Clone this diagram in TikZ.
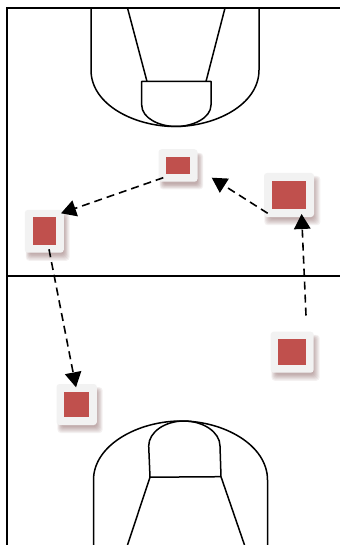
\documentclass[tikz,border=0pt]{standalone}
\usetikzlibrary{arrows.meta,shadows}
\definecolor{tokenred}{HTML}{C0504D}
\definecolor{tokenbg}{HTML}{F2F2F2}
\definecolor{shadowred}{HTML}{6E3A3C}
\tikzset{
  x=1pt,y=-1pt,
  court/.style={line width=1.5pt,draw=black,line join=round},
  frame/.style={line width=2pt,draw=black},
  softlayer/.style={general shadow={fill=shadowred,opacity=.07,shadow xshift=3pt,shadow yshift=-5pt,shadow scale=#1,rounded corners=4pt}},
  tokenbox/.style={softlayer=1.12,softlayer=1.08,softlayer=1.04,softlayer=1.0,softlayer=.96,softlayer=.92,softlayer=.88,fill=tokenbg,rounded corners=3pt,inner sep=0pt},
  tokencore/.style={fill=tokenred,inner sep=0pt},
  pass/.style={line width=1.6pt,draw=black,dash pattern=on 8pt off 5pt,-{Triangle[length=15pt,width=16.5pt]}}
}
\begin{document}
\begin{tikzpicture}
\useasboundingbox[fill=white] (0,0) rectangle (340,545);
% court
\draw[frame] (7,545) -- (7,8) -- (340,8);
\draw[frame] (7,276) -- (340,276);
% top key
\draw[court] (91,8) -- (91,70) .. controls (91,105) and (135,126.5) .. (175,126.5) .. controls (215,126.5) and (259,105) .. (259,70) -- (259,8);
\draw[court] (141.7,81.5) -- (211,81.5) -- (211,105) .. controls (211,118) and (193,126.5) .. (176,126.5) .. controls (159,126.5) and (141.7,118) .. (141.7,105) -- cycle;
\draw[court] (127.5,8) -- (147,81.5);
\draw[court] (225,8) -- (206,81.5);
% bottom key
\draw[court] (93.5,545) -- (93.5,480) .. controls (93.5,445) and (138,421) .. (181,421) .. controls (224,421) and (267.5,445) .. (267.5,480) -- (267.5,545);
\draw[court] (150,477.2) -- (148.7,446) .. controls (148.7,432) and (165,421) .. (184,421) .. controls (203,421) and (220,432) .. (220,446) -- (221,476.7) -- cycle;
\draw[court] (150,477.2) -- (127.5,545);
\draw[court] (221,476.7) -- (244.5,545);
% players
\node[tokenbox,minimum width=39pt,minimum height=32.5pt] (boxA) at (178,165.5) {};
\node[tokencore,minimum width=23.3pt,minimum height=16.7pt] (coreA) at (boxA.center) {};
\node[tokenbox,minimum width=50pt,minimum height=44pt] (boxB) at (289,195) {};
\node[tokencore,minimum width=34.7pt,minimum height=27.7pt] (coreB) at (boxB.center) {};
\node[tokenbox,minimum width=39pt,minimum height=42.7pt] (boxC) at (44.3,231.3) {};
\node[tokencore,minimum width=23.3pt,minimum height=28pt] (coreC) at (boxC.center) {};
\node[tokenbox,minimum width=43pt,minimum height=41pt] (boxD) at (292.2,352.2) {};
\node[tokencore,minimum width=28pt,minimum height=25.6pt] (coreD) at (boxD.center) {};
\node[tokenbox,minimum width=40.3pt,minimum height=41pt] (boxE) at (76.7,404.5) {};
\node[tokencore,minimum width=25.4pt,minimum height=25pt] (coreE) at (boxE.center) {};
% passes
\coordinate (dStart) at (306,315.5);
\coordinate (bEnd) at (301.6,214);
\coordinate (bStart) at (267.7,213.3);
\coordinate (aEnd) at (211.7,177.7);
\coordinate (aStart) at (163.3,177.7);
\coordinate (cEnd) at (61,213.3);
\coordinate (cStart) at (49,249.3);
\coordinate (eEnd) at (76,387.3);
\draw[pass] (dStart) -- (bEnd);
\draw[pass] (bStart) -- (aEnd);
\draw[pass] (aStart) -- (cEnd);
\draw[pass] (cStart) -- (eEnd);
\end{tikzpicture}
\end{document}
